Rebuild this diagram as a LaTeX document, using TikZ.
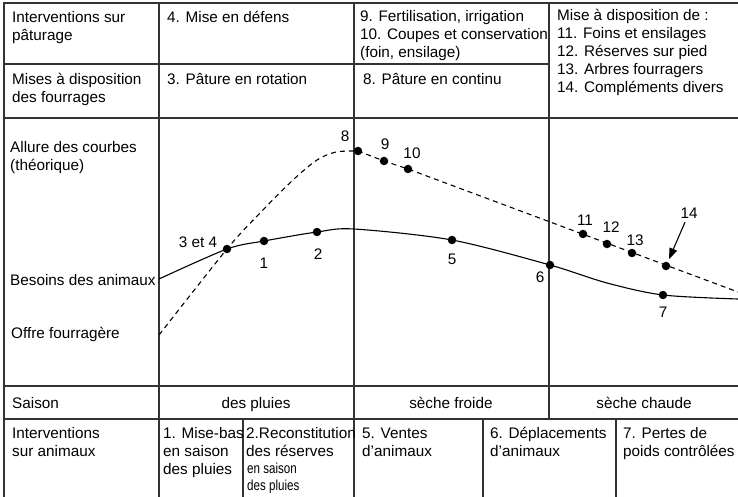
\documentclass[tikz,border=0pt]{standalone}
\usepackage{fontspec}
\setmainfont{Liberation Sans}
\newfontfamily\narrowsans[FakeStretch=0.8]{Liberation Sans}
\usetikzlibrary{arrows.meta}

\begin{document}
\begin{tikzpicture}
			[x=1pt,y=-1pt,
			 every node/.style={inner sep=0,font=\fontsize{15.3}{18}\selectfont},
			 txt/.style={anchor=base west,align=left},
			 mid/.style={anchor=base},
			 small/.style={font=\narrowsans\fontsize{14.5}{17}\selectfont},
			 dot/.style={circle,fill=black,minimum size=8.5},
			 rule/.style={line width=1.3,draw=black!80},
			 need/.style={line width=1.1},
			 offer/.style={line width=1.1,dash pattern=on 5pt off 4pt}]
			\useasboundingbox (0,0) rectangle (738,497);

			% table frame
			\draw [rule] (4,497) -- (4,3) -- (738,3);
			\draw [rule] (4,64) -- (549,64);
			\draw [rule] (4,118) -- (738,118);
			\draw [rule] (4,386) -- (738,386);
			\draw [rule] (4,419) -- (738,419);
			\draw [rule] (159,3) -- (159,497);
			\draw [rule] (354,3) -- (354,497);
			\draw [rule] (549,3) -- (549,419);
			\foreach \x in {243,483,616}
			  \draw [rule] (\x,419) -- (\x,497);

			% top rows (base = last line)
			\node (r1) [txt] at (12,41) {Interventions sur\\pâturage};
			\node (c4) [txt] at (167,23) {4. Mise en défens};
			\node (c9) [txt] at (360,58) {9. Fertilisation, irrigation\\10. Coupes et conservation\\(foin, ensilage)};
			\node (c11) [txt] at (557,93) {Mise à disposition de :\\11. Foins et ensilages\\12. Réserves sur pied\\13. Arbres fourragers\\14. Compléments divers};
			\node (r2) [txt] at (12,103) {Mises à disposition\\des fourrages};
			\node (c3) [txt] at (167,85) {3. Pâture en rotation};
			\node (c8) [txt] at (363,85) {8. Pâture en continu};

			% curves
			\node (r3) [txt] at (10,171) {Allure des courbes\\(théorique)};
			\node (lneed) [txt] at (10,285) {Besoins des animaux};
			\node (loffer) [txt] at (11,338) {Offre fourragère};

			\coordinate (b0) at (159,279);
			\node (p34) [dot] at (227,249) {};
			\node (p1) [dot] at (264,241) {};
			\node (p2) [dot] at (317,232) {};
			\coordinate (btop) at (354,229);
			\node (p5) [dot] at (452,240) {};
			\node (p6) [dot] at (550,265) {};
			\coordinate (bdown) at (607,283);
			\node (p7) [dot] at (663,295) {};
			\coordinate (b1) at (738,299);
			\draw [need] plot [smooth] coordinates {(b0) (p34.center) (p1.center) (p2.center) (btop) (p5.center) (p6.center) (bdown) (p7.center) (b1)};

			\coordinate (o0) at (159,335);
			\coordinate (oa) at (260,213);
			\coordinate (ob) at (293,180);
			\coordinate (oc) at (317,160);
			\coordinate (od) at (336,152);
			\node (p8) [dot] at (358,151) {};
			\node (p9) [dot] at (384,161) {};
			\node (p10) [dot] at (408,169) {};
			\node (p11) [dot] at (583,234) {};
			\node (p12) [dot] at (607,244) {};
			\node (p13) [dot] at (632,253) {};
			\node (p14) [dot] at (666,266) {};
			\coordinate (o1) at (738,292);
			\draw [offer] plot [smooth] coordinates {(o0) (p34.center) (oa) (ob) (oc) (od) (p8.center)}
			  -- (p9.center) -- (p10.center) -- (o1);

			\node (l34) at (198,242) {3 et 4};
			\node (l1) at (264,263) {1};
			\node (l2) at (318,254) {2};
			\node (l5) at (452,259) {5};
			\node (l6) at (540,277) {6};
			\node (l7) at (663,312) {7};
			\node (l8) at (345,136) {8};
			\node (l9) at (385,144) {9};
			\node (l10) at (412,153) {10};
			\node (l11) at (585,220) {11};
			\node (l12) at (611,227) {12};
			\node (l13) at (635,240) {13};
			\node (l14) at (689,213) {14};
			\draw [-{Triangle[length=11pt,width=8pt]},line width=1.1,shorten <=4pt,shorten >=3pt] (l14) -- (p14);

			% seasons
			\node (r4) [txt] at (12,408) {Saison};
			\node (s1) [mid] at (256,408) {des pluies};
			\node (s2) [mid] at (451,408) {sèche froide};
			\node (s3) [mid] at (644,408) {sèche chaude};

			% animals
			\node (r5) [txt] at (12,456) {Interventions\\sur animaux};
			\node (a1) [txt] at (163,474) {1. Mise-bas\\en saison\\des pluies};
			\node (a2) [txt] at (246,456) {2.Reconstitution\\des réserves};
			\node (a2b) [txt,small] at (247,490) {en saison\\des pluies};
			\node (a5) [txt] at (362,456) {5. Ventes\\d'animaux};
			\node (a6) [txt] at (490,456) {6. Déplacements\\d'animaux};
			\node (a7) [txt] at (623,456) {7. Pertes de\\poids contrôlées};
\end{tikzpicture}
\end{document}
